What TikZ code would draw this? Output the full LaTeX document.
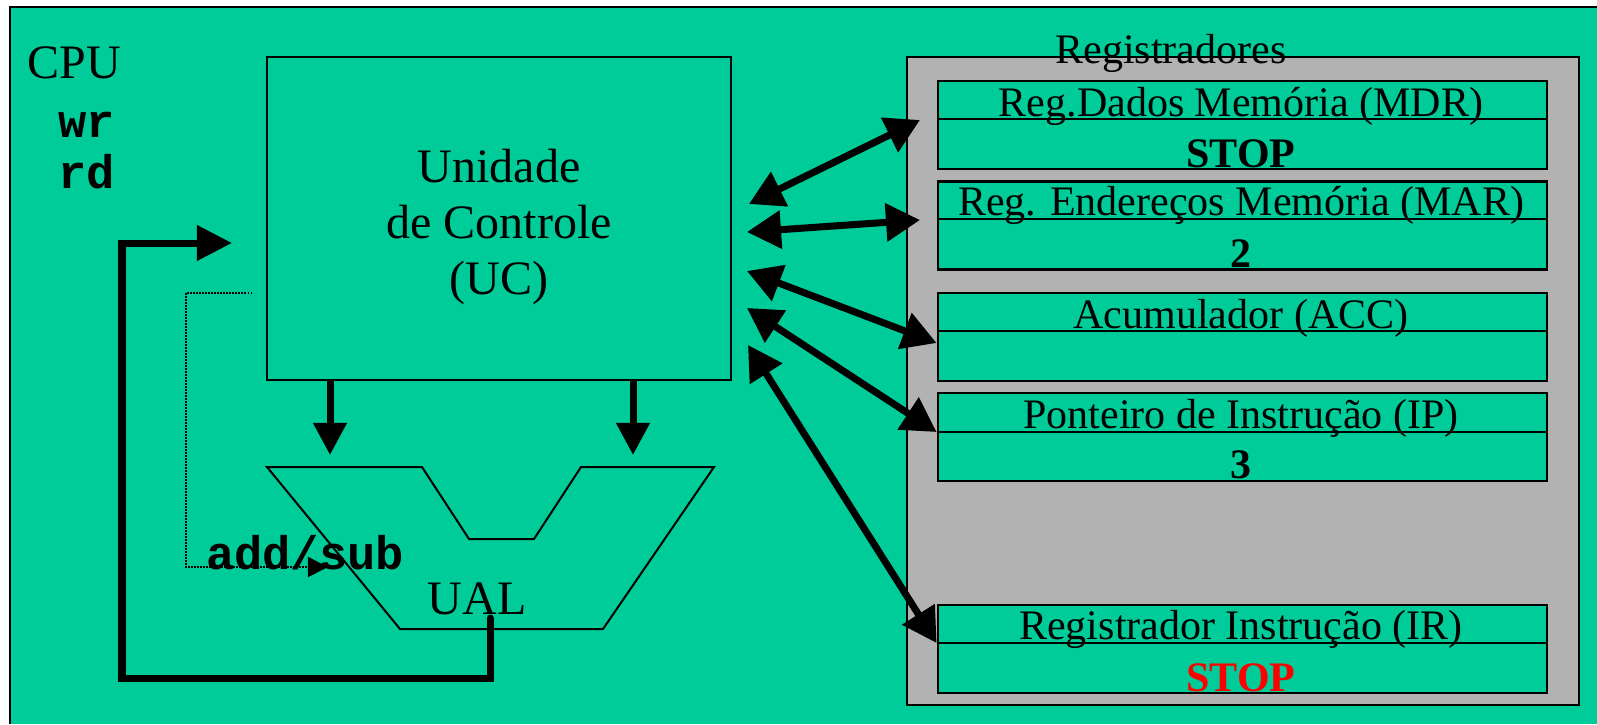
\documentclass[tikz,border=0pt]{standalone}
\usepackage{fontspec}
\setmainfont{Liberation Serif}
\setmonofont{Liberation Mono}
\usetikzlibrary{arrows.meta}
\definecolor{cpugreen}{RGB}{0,204,153}
\definecolor{reggray}{RGB}{178,178,178}

\begin{document}
\begin{tikzpicture}[x=0.01cm,y=-0.01cm,
	box/.style={draw,line width=0.02cm,inner sep=0pt},
	reg/.style={draw,fill=cpugreen,line width=0.025cm,minimum width=6.09cm,minimum height=0.88cm,inner sep=0pt},
	big/.style={inner sep=0pt,font=\fontsize{13.66pt}{15.94pt}\selectfont},
	sig/.style={inner sep=0pt,anchor=base west,font=\fontsize{13.4pt}{15pt}\selectfont\ttfamily\bfseries},
	lbl/.style={inner sep=0pt,anchor=base,font=\fontsize{11.95pt}{14pt}\selectfont},
	val/.style={lbl,font=\fontsize{11.95pt}{14pt}\selectfont\bfseries},
	bus/.style={line width=0.07cm,{Triangle[length=0.34cm,width=0.37cm]}-{Triangle[length=0.34cm,width=0.37cm]}},
	ctl/.style={line width=0.07cm,-{Triangle[length=0.32cm,width=0.32cm]}},
	fb/.style={line width=0.07cm,line join=miter,line cap=round,-{Triangle[length=0.35cm,width=0.34cm]}}]
	
	% Background
	\useasboundingbox (0,0) rectangle (1597,724);
	\fill[cpugreen] (10,7) rectangle (1597,724);
	\draw[line width=0.02cm] (10,724) -- (10,7) -- (1597,7);
	
	% CPU side
	\node[big,anchor=base west] (cpu) at (27,78) {CPU};
	\node[sig] (wr) at (58,137) {wr};
	\node[sig] (rd) at (58,188) {rd};
	
	% Control unit
	\node[box,minimum width=4.64cm,minimum height=3.23cm] (uc) at (499,218.5) {};
	\node[big,align=center,anchor=north] (uctxt) at (499,148) {Unidade\\de Controle\\(UC)};
	
	% ALU
	\draw[line width=0.02cm] (267,467) -- (422,467) -- (469,539) -- (534,539)
	-- (581,467) -- (714,467) -- (603,629) -- (400,629) -- cycle;
	\node[big,anchor=base] (ual) at (477,614) {UAL};
	\coordinate (alua) at (330,455);
	\coordinate (alub) at (633,455);
	\draw[ctl] (uc.south -| alua) -- (alua);
	\draw[ctl] (uc.south -| alub) -- (alub);
	
	% Operation select (dotted)
	\coordinate (opsrc) at (252,293);
	\coordinate (opdst) at (328,567);
	\draw[line width=0.015cm,dash pattern=on 0.015cm off 0.015cm,-{Triangle[length=0.2cm,width=0.2cm]}]
	(opsrc) -- (186,293) -- (186,567) -- (opdst);
	\node[sig,anchor=base] (op) at (305,569) {add/sub};
	
	% Feedback from ALU to UC
	\coordinate (ualout) at (490,618);
	\coordinate (ucin) at (232,243);
	\draw[fb] (ualout) -- (490,678) -- (122,678) -- (122,243) -- (ucin);
	
	% Registers
	\node[box,fill=reggray,minimum width=6.72cm,minimum height=6.48cm] (regs) at (1243,381) {};
	\node[lbl] (regstxt) at (1171,63) {Registradores};
	
	\node[reg] (mdr) at (1242.5,125) {};
	\draw[line width=0.025cm] (mdr.west |- 0,119) -- (mdr.east |- 0,119);
	\node[lbl] at (1241,116) {Reg.Dados Memória (MDR)};
	\node[val] at (1241,167) {STOP};
	
	\node[reg] (mar) at (1242.5,225.5) {};
	\draw[line width=0.025cm] (mar.west |- 0,219) -- (mar.east |- 0,219);
	\node[lbl] at (1241,215) {Reg. Endereços Memória (MAR)};
	\node[val] at (1241,267) {2};
	
	\node[reg] (acc) at (1242.5,337) {};
	\draw[line width=0.025cm] (acc.west |- 0,331) -- (acc.east |- 0,331);
	\node[lbl] at (1241,328) {Acumulador (ACC)};
	
	\node[reg] (ip) at (1242.5,437) {};
	\draw[line width=0.025cm] (ip.west |- 0,432) -- (ip.east |- 0,432);
	\node[lbl] at (1241,428) {Ponteiro de Instrução (IP)};
	\node[val] at (1241,478) {3};
	
	\node[reg] (ir) at (1242.5,649) {};
	\draw[line width=0.025cm] (ir.west |- 0,643) -- (ir.east |- 0,643);
	\node[lbl] at (1241,639) {Registrador Instrução (IR)};
	\node[val,text=red] at (1241,691) {STOP};
	
	% Buses UC <-> registers
	\coordinate (ucmdr) at (749,204);
	\coordinate (ucmar) at (747,232);
	\coordinate (ucacc) at (747,271);
	\coordinate (ucip) at (747,308);
	\coordinate (ucir) at (748,345);
	\coordinate (mdrin) at (920,120);
	\coordinate (marin) at (920,220);
	\draw[bus] (ucmdr) -- (mdrin);
	\draw[bus] (ucmar) -- (marin);
	\draw[bus] (ucacc) -- (acc.west |- 0,343);
	\draw[bus] (ucip) -- (ip.west |- 0,432);
	\draw[bus] (ucir) -- (ir.west |- 0,643);
	
\end{tikzpicture}
\end{document}
